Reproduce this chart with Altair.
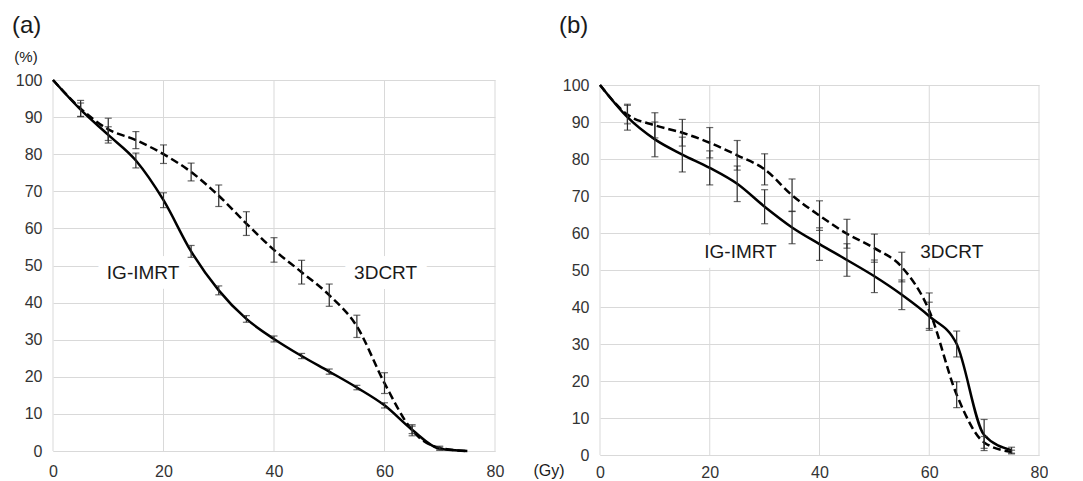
import altair as alt
import pandas as pd

FONT = "Liberation Sans"

dose = [0, 5, 10, 15, 20, 25, 30, 35, 40, 45, 50, 55, 60, 65, 70, 75]

# Panel (a)
a_imrt = [100, 92.0, 85.2, 78.3, 67.6, 53.8, 43.3, 35.6, 30.2, 25.6, 21.4, 17.1, 12.3, 5.7, 0.6, 0.0]
a_imrt_err = [0, 1.8, 2.2, 2.0, 2.0, 1.6, 1.2, 0.9, 0.8, 0.7, 0.7, 0.6, 0.7, 1.0, 0.4, 0]
a_3d = [100, 92.3, 86.7, 83.8, 80.0, 75.2, 68.8, 61.3, 54.2, 48.2, 42.0, 33.6, 18.3, 5.6, 0.8, 0.0]
a_3d_err = [0, 2.2, 3.0, 2.3, 2.5, 2.4, 2.9, 3.2, 3.3, 3.2, 3.0, 3.0, 2.8, 1.5, 0.5, 0]

# Panel (b)
b_imrt = [100, 91.3, 85.3, 81.2, 77.6, 73.3, 67.1, 61.5, 57.0, 52.7, 48.3, 43.3, 37.5, 30.0, 5.4, 1.3]
b_imrt_err = [0, 3.5, 4.7, 4.7, 4.6, 4.8, 4.6, 4.4, 4.4, 4.4, 4.4, 4.0, 3.8, 3.5, 4.2, 0.8]
b_3d = [100, 92.0, 89.1, 87.1, 84.4, 81.0, 77.2, 70.2, 64.7, 59.8, 55.9, 50.8, 39.0, 16.3, 3.4, 0.8]
b_3d_err = [0, 2.5, 3.4, 3.6, 4.1, 4.0, 4.2, 4.4, 4.0, 3.9, 3.8, 4.0, 4.8, 3.5, 1.6, 0.5]

series_names = ["IG-IMRT", "3DCRT"]
a_label_x = [16.3, 60.2]
a_label_y = [48.0, 48.0]
b_label_x = [25.6, 64.1]
b_label_y = [55.0, 55.0]

x_ticks = [0, 20, 40, 60, 80]
y_ticks = list(range(0, 101, 10))


def make_panel(imrt, imrt_err, crt, crt_err, lab_x, lab_y, w, h, yrange,
               xlabel_pad, extra_text):
    rows = []
    for name, vals, errs in [("IG-IMRT", imrt, imrt_err), ("3DCRT", crt, crt_err)]:
        for d, v, e in zip(dose, vals, errs):
            rows.append({"dose": d, "value": v, "lo": v - e, "hi": v + e,
                         "err": e, "series": name})
    df = pd.DataFrame(rows)
    lab = pd.DataFrame({"label": series_names, "x": lab_x, "y": lab_y})
    grid = pd.DataFrame({"g": x_ticks})

    xscale = alt.Scale(domain=[0, 80], nice=False, zero=False)
    yscale = alt.Scale(domain=[0, 100], nice=False, range=yrange)
    xaxis = alt.Axis(values=x_ticks, title=None, grid=False,
                     domainColor="#d9d9d9", ticks=False, labelFlush=False,
                     labelOverlap=False,
                     labelFontSize=16, labelFont=FONT, labelColor="#333333",
                     labelPadding=xlabel_pad)
    yaxis = alt.Axis(values=y_ticks, title=None, grid=True,
                     gridColor="#d9d9d9", domain=False, ticks=False,
                     labelFlush=False, labelOverlap=False,
                     labelFontSize=16, labelFont=FONT, labelColor="#333333",
                     labelPadding=11)

    X = lambda f: alt.X(f, scale=xscale, axis=xaxis)
    Y = lambda f: alt.Y(f, scale=yscale, axis=yaxis)

    vgrid = alt.Chart(grid).mark_rule(color="#d9d9d9", strokeWidth=1).encode(
        x=X("g:Q"),
        y=alt.YDatum(0, scale=yscale, axis=yaxis, type="quantitative"),
        y2=alt.Y2Datum(100))

    base = alt.Chart(df)
    halo = alt.Chart(lab).mark_text(
        fontSize=19, font=FONT, color="white", stroke="white", strokeWidth=20,
        strokeJoin="round"
    ).encode(x=X("x:Q"), y=Y("y:Q"), text="label:N")
    txt = alt.Chart(lab).mark_text(
        fontSize=19, font=FONT, color="#1a1a1a"
    ).encode(x=X("x:Q"), y=Y("y:Q"), text="label:N")

    solid = base.transform_filter(alt.datum.series == "IG-IMRT").mark_line(
        interpolate="monotone", color="black", strokeWidth=2.5
    ).encode(x=X("dose:Q"), y=Y("value:Q"))
    dashed = base.transform_filter(alt.datum.series == "3DCRT").mark_line(
        interpolate="monotone", color="black", strokeWidth=2.5, strokeDash=[8, 4]
    ).encode(x=X("dose:Q"), y=Y("value:Q"))
    eb = base.transform_filter(alt.datum.err > 0).mark_errorbar(
        ticks={"size": 7}, rule={"strokeWidth": 1.2}, color="#2a2a2a", thickness=1.2
    ).encode(x=X("dose:Q"), y=Y("lo:Q"), y2="hi:Q")

    layers = [vgrid, halo, dashed, solid, eb, txt] + extra_text
    return alt.layer(*layers).properties(width=w, height=h)


def note(text, x, y, size, align="center"):
    return alt.Chart(pd.DataFrame({"t": [text]})).mark_text(
        fontSize=size, font=FONT, color="#1a1a1a", align=align, baseline="middle"
    ).encode(x=alt.value(x), y=alt.value(y), text="t:N")


left = make_panel(a_imrt, a_imrt_err, a_3d, a_3d_err, a_label_x, a_label_y,
                  442, 371, [371, 0], 12,
                  [note("(a)", -41, -54, 24, "left"), note("(%)", -27, -23, 15)])
right = make_panel(b_imrt, b_imrt_err, b_3d, b_3d_err, b_label_x, b_label_y,
                   439, 375, [375, 5], 9,
                   [note("(b)", -41, -54, 24, "left"), note("(Gy)", -51, 391, 16)])

chart = alt.hconcat(left, right, spacing=29).properties(
    padding={"left": 4, "top": 6, "right": 0, "bottom": 0}
).configure_view(stroke=None)

chart.save("out.html", embed_options={"renderer": "svg", "actions": False})
